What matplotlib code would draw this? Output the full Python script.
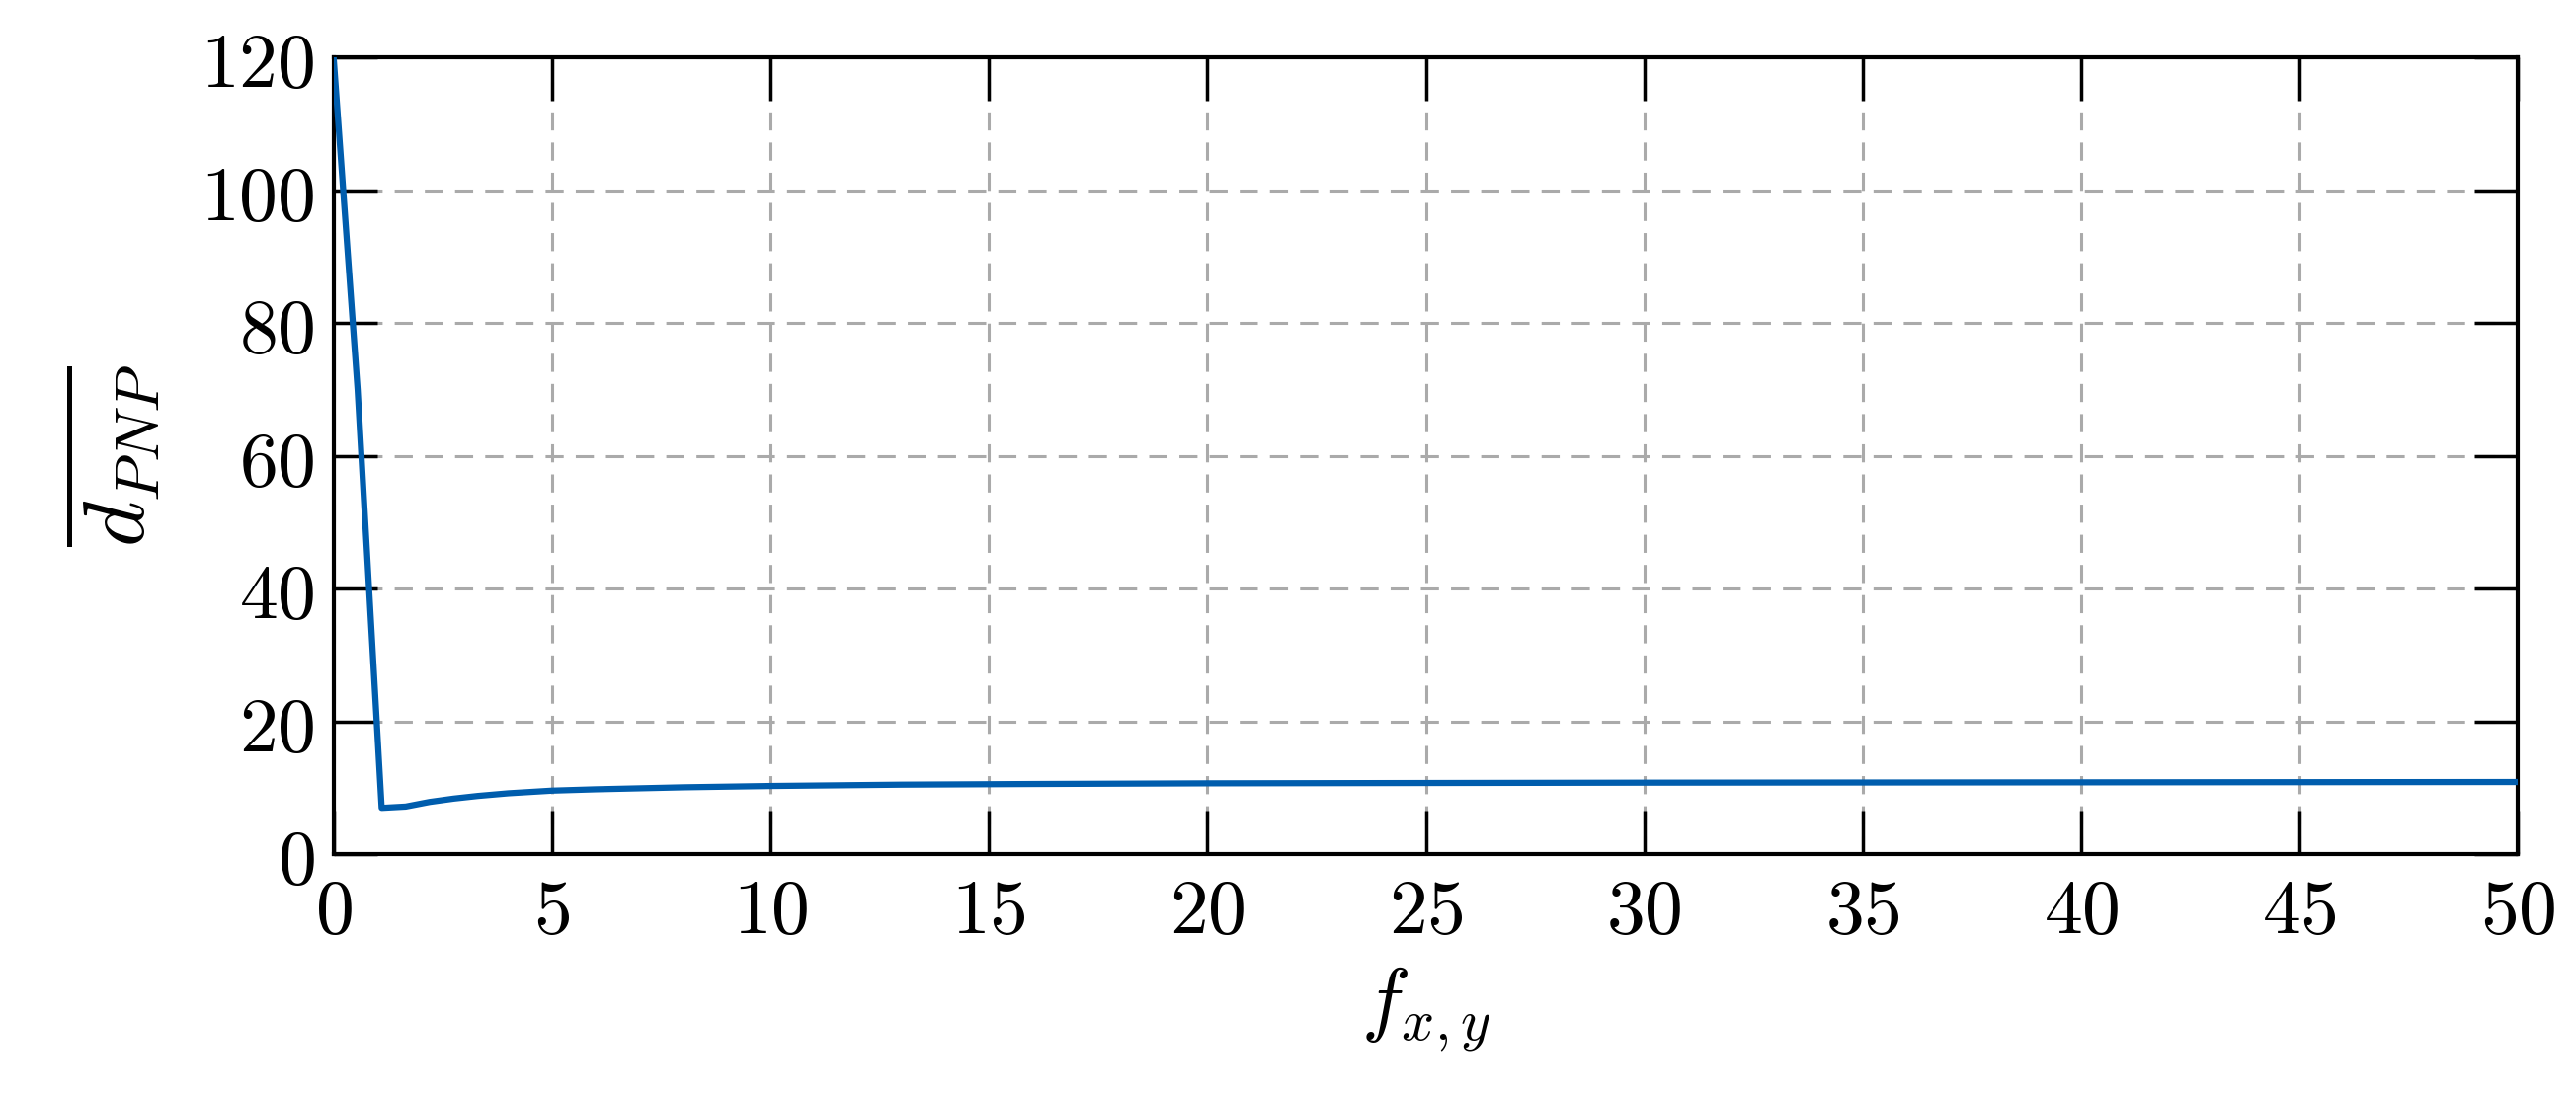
import matplotlib
matplotlib.use('Agg')
import matplotlib.pyplot as plt
from matplotlib.ticker import FuncFormatter

plt.rcParams['mathtext.fontset'] = 'cm'
plt.rcParams['font.family'] = 'serif'
plt.rcParams['font.serif'] = ['DejaVu Serif']

# values
f_xy = [0.0, 0.55, 1.1, 1.65, 2.2, 2.75, 3.3, 4.0, 5.0, 6.0, 8.0, 10.0, 13.0, 16.0, 20.0, 25.0, 30.0, 40.0, 50.0]
d_pnp = [120.0, 70.0, 7.0, 7.2, 7.9, 8.4, 8.8, 9.2, 9.6, 9.8, 10.1, 10.3, 10.5, 10.6, 10.7, 10.75, 10.8, 10.85, 10.9]

fig = plt.figure(figsize=(26.08, 11.08), dpi=100)
ax = fig.add_axes([0.1295, 0.219, 0.848, 0.7285])
ax.plot(f_xy, d_pnp, color='#005dad', linewidth=4.5, zorder=3)

ax.set_xlim(0, 50)
ax.set_ylim(0, 120)
ax.set_xticks(range(0, 51, 5))
ax.set_yticks(range(0, 121, 20))
fmt = FuncFormatter(lambda v, p: '$%d$' % v)
ax.xaxis.set_major_formatter(fmt)
ax.yaxis.set_major_formatter(fmt)
ax.tick_params(direction='in', length=32, width=2.5, labelsize=56,
               top=True, right=True, pad=14)
for s in ax.spines.values():
    s.set_linewidth(3)
ax.grid(True, color='#aaaaaa', linestyle=(0, (6, 4)), linewidth=2.2)

ax.set_xlabel(r'$f_{x,y}$', fontsize=60, labelpad=12)
ax.set_ylabel(r'$\overline{d_{PNP}}$', fontsize=64, labelpad=26)

fig.savefig('out.png', dpi=100)
